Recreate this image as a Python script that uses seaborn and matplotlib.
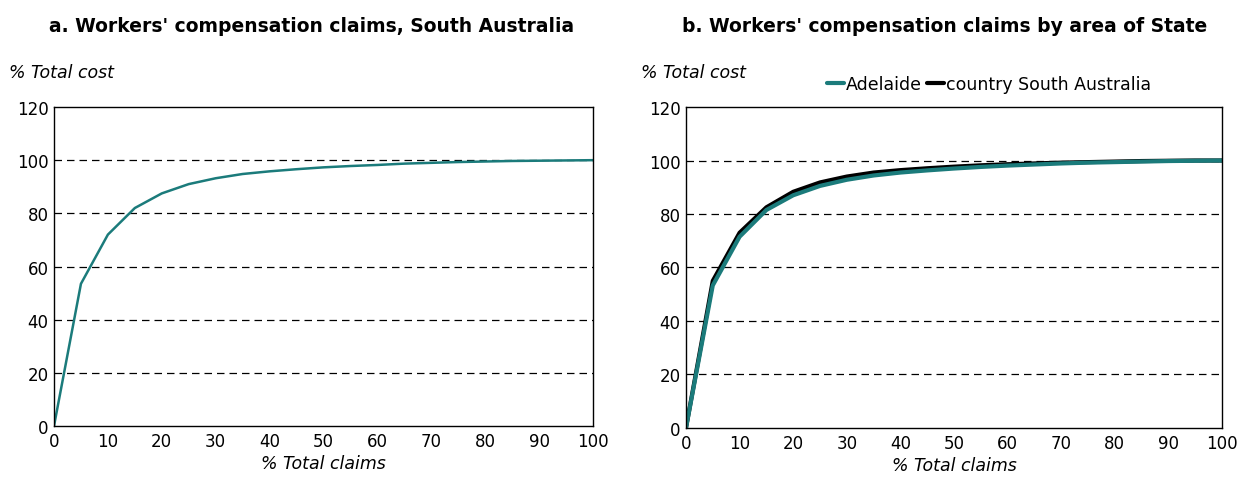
import numpy as np
import pandas as pd
import matplotlib
matplotlib.use("Agg")
import matplotlib.pyplot as plt
import seaborn as sns

# % of total claims (cumulative), every 5%
claims_pct = [0, 5, 10, 15, 20, 25, 30, 35, 40, 45, 50,
              55, 60, 65, 70, 75, 80, 85, 90, 95, 100]

# a. South Australia, % of total cost
sa_cost = [0, 53.5, 72.0, 82.0, 87.5, 91.0, 93.2, 94.8, 95.8, 96.6, 97.3,
           97.8, 98.2, 98.7, 99.0, 99.3, 99.5, 99.7, 99.8, 99.9, 100]

# b. by area of State
adelaide_cost = [0, 53.3, 71.5, 81.5, 87.0, 90.5, 92.8, 94.4, 95.5, 96.3, 97.0,
                 97.6, 98.1, 98.5, 98.9, 99.2, 99.4, 99.6, 99.8, 99.9, 100]
country_cost = [0, 55.0, 73.0, 82.5, 88.3, 91.8, 94.0, 95.5, 96.4, 97.1, 97.7,
                98.2, 98.6, 98.9, 99.2, 99.4, 99.6, 99.8, 99.9, 100, 100]

teal = "#1b7b7b"

sns.set_style("white")
plt.rcParams['font.family'] = ['DejaVu Sans']
plt.rcParams['text.color'] = 'black'

fig = plt.figure(figsize=(12.47, 4.85), dpi=100)
ax1 = fig.add_axes([0.0433, 0.1196, 0.4322, 0.6577])
ax2 = fig.add_axes([0.5501, 0.1155, 0.4299, 0.6618])

df_a = pd.DataFrame({"claims": claims_pct, "cost": sa_cost})
df_b = pd.concat([
    pd.DataFrame({"claims": claims_pct, "cost": adelaide_cost, "area": "Adelaide"}),
    pd.DataFrame({"claims": claims_pct, "cost": country_cost, "area": "country South Australia"}),
])

sns.lineplot(data=df_a, x="claims", y="cost", color=teal, lw=1.8, ax=ax1)
sns.lineplot(data=df_b, x="claims", y="cost", hue="area",
             palette={"Adelaide": teal, "country South Australia": "black"},
             hue_order=["country South Australia", "Adelaide"],
             lw=3, ax=ax2)

def style_axes(ax, title, title_x):
    ax.set_xlim(0, 100)
    ax.set_ylim(0, 120)
    ax.set_xticks(range(0, 101, 10))
    ax.set_yticks(range(0, 121, 20))
    for y in range(20, 101, 20):
        ax.axhline(y, color="black", lw=0.9, ls=(0, (6, 4)), zorder=0)
    for s in ax.spines.values():
        s.set_color("black")
        s.set_linewidth(1.0)
    ax.tick_params(axis="both", labelsize=12, length=0, pad=4, colors="black")
    ax.set_xlabel("% Total claims", fontsize=12.5, style="italic", labelpad=3,
                  color="black")
    ax.set_ylabel("")
    ax.text(-0.083, 1.08, "% Total cost", transform=ax.transAxes,
            fontsize=12.5, style="italic", ha="left", va="bottom")
    ax.set_title(title, fontsize=13.5, fontweight="bold", pad=55, x=title_x,
                 color="black")

style_axes(ax1, "a. Workers' compensation claims, South Australia", 0.478)
style_axes(ax2, "b. Workers' compensation claims by area of State", 0.483)

# legend: Adelaide first, then country
handles, labels = ax2.get_legend_handles_labels()
order = [labels.index("Adelaide"), labels.index("country South Australia")]
ax2.legend([handles[i] for i in order], [labels[i] for i in order],
           loc="lower center", bbox_to_anchor=(0.565, 0.995), ncol=2,
           frameon=False, fontsize=12.5, handlelength=1.0, handletextpad=0.1,
           columnspacing=0.3)

fig.savefig("out.png", dpi=100)
